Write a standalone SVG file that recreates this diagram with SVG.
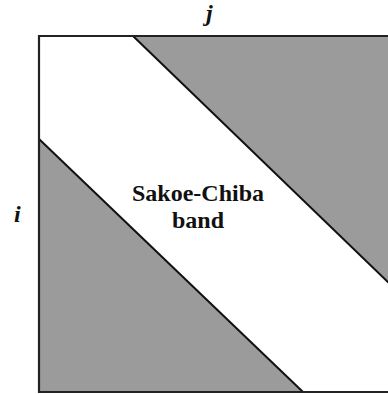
<svg xmlns="http://www.w3.org/2000/svg" width="388" height="394" viewBox="0 0 388 394">
  <style>
    .region { fill: #9b9b9b; stroke: none; }
    .edge { stroke: #111; stroke-width: 2; fill: none; }
    .frame { stroke: #222; stroke-width: 2.2; fill: none; }
    .axis { font-style: italic; font-weight: bold; font-size: 24px; fill: #111; }
    .label { font-weight: bold; font-size: 24px; fill: #111; text-anchor: middle; }
  </style>
  <rect x="0" y="0" width="388" height="394" fill="#ffffff"/>

  <!-- shaded regions outside the band -->
  <g id="upper-region">
    <polygon class="region" points="133,36 392,36 392,286"/>
  </g>
  <g id="lower-region">
    <polygon class="region" points="39,139 39,392 303,392"/>
  </g>

  <!-- band boundaries and frame -->
  <g id="connectors">
    <line class="edge" x1="133" y1="36" x2="392" y2="286"/>
    <line class="edge" x1="39" y1="139" x2="303" y2="392"/>
    <polyline class="frame" points="392,36 39,36 39,392 392,392"/>
  </g>

  <g id="axis-j">
    <text class="axis" x="206" y="21" font-family="Liberation Serif, DejaVu Serif, serif">j</text>
  </g>
  <g id="axis-i">
    <text class="axis" x="14" y="222" font-family="Liberation Serif, DejaVu Serif, serif">i</text>
  </g>
  <g id="band-label">
    <text class="label" x="198" y="201" font-family="Liberation Serif, DejaVu Serif, serif">Sakoe-Chiba</text>
    <text class="label" x="198" y="228" font-family="Liberation Serif, DejaVu Serif, serif">band</text>
  </g>
</svg>
